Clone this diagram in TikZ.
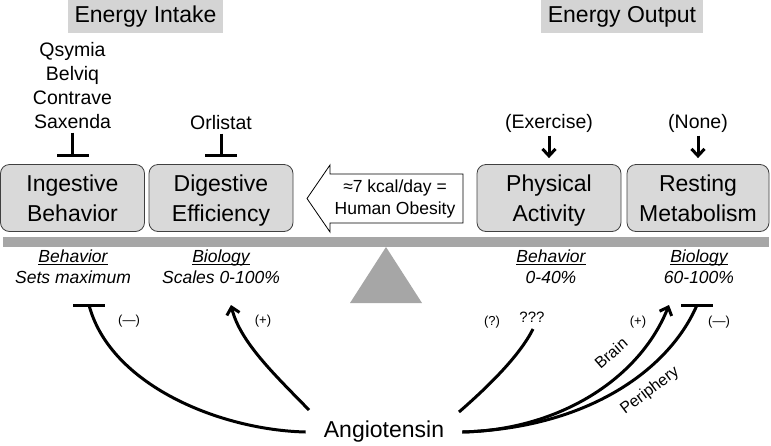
\documentclass[tikz,border=0pt]{standalone}
\usepackage{fontspec}
\setmainfont{Liberation Sans}
\usetikzlibrary{arrows.meta, positioning}

\definecolor{boxgray}{gray}{0.85}
\definecolor{titlegray}{gray}{0.83}
\definecolor{beamgray}{gray}{0.65}
\newcommand\fsz[2]{\fontsize{#1}{#2}\selectfont}
\newcommand\ulab[1]{\underline{\smash{#1}\vphantom{B}}}

\tikzset{
  part/.style={draw=black!75, line width=0.8pt, rounded corners=9pt, fill=boxgray,
    minimum width=144pt, minimum height=67pt, align=center, text depth=0pt,
    font=\fsz{23}{30}},
  title/.style={fill=titlegray, minimum height=33pt, font=\fsz{23}{28}},
  drug/.style={align=center, font=\fsz{19.5}{24}},
  scalelab/.style={align=center, font=\fsz{17.5}{21}\itshape},
  sign/.style={font=\fsz{13}{15}},
  route/.style={line width=3pt},
  inhib/.style={line width=3pt, -{Bar[width=32pt]}},
  stim/.style={line width=3pt, -{Straight Barb[length=7pt,width=13pt]}}
}

\begin{document}
\begin{tikzpicture}[x=1pt, y=-1pt]
  \useasboundingbox (0,0) rectangle (771,445);

  % headings
  \node[title, minimum width=155pt] (intake) at (145.5,16.5) {Energy Intake};
  \node[title, minimum width=162pt] (output) at (622,16.5) {Energy Output};

  % drugs
  \node[drug] (drugs) at (72.5,86) {Qsymia\\Belviq\\Contrave\\Saxenda};
  \node[drug] (orli) at (221,123) {Orlistat};
  \node[drug] (exer) at (549,123) {(Exercise)};
  \node[drug] (none) at (698,123) {(None)};

  % compartments
  \node[part] (ingest) at (72.5,198) {Ingestive\\Behavior};
  \node[part] (digest) at (221,198) {Digestive\\Efficiency};
  \node[part] (phys) at (549,198) {Physical\\Activity};
  \node[part, minimum width=142pt] (rest) at (698,198) {Resting\\Metabolism};

  \draw[inhib] (drugs.south) -- ([yshift=7pt]ingest.north);
  \draw[inhib] (orli.south) -- ([yshift=7pt]digest.north);
  \draw[stim] (exer.south) -- ([yshift=6pt]phys.north);
  \draw[stim] (none.south) -- ([yshift=6pt]rest.north);

  % imbalance arrow
  \draw[line width=0.8pt, fill=white] (463,174) -- (330,174) -- (330,165) -- (307,198.5)
    -- (330,232) -- (330,223) -- (463,223) -- cycle;
  \node[align=center, font=\fsz{17.5}{22}] (gap) at (395,199) {≈7 kcal/day =\\Human Obesity};

  % balance
  \fill[beamgray] (3,237) rectangle (769,247);
  \fill[beamgray] (386,247) -- (350,303) -- (422,303) -- cycle;

  \node[scalelab] (lab1) at (73,267) {\ulab{Behavior}\\Sets maximum};
  \node[scalelab] (lab2) at (221,267) {\ulab{Biology}\\Scales 0-100\%};
  \node[scalelab] (lab3) at (551,267) {\ulab{Behavior}\\0-40\%};
  \node[scalelab] (lab4) at (699,267) {\ulab{Biology}\\60-100\%};

  % angiotensin
  \node[font=\fsz{23}{28}, inner xsep=18pt] (ang) at (384,432) {Angiotensin};
  \coordinate (dstart) at (309,410);
  \coordinate (qstart) at (459,412);
  \coordinate (qend) at (533,329);
  \coordinate (barL) at (89,305);
  \coordinate (barR) at (697,305);
  \coordinate (tipD) at (231,305);
  \coordinate (tipB) at (669,305);

  \draw[route] (ang.west) .. controls (220,430) and (110,385) .. (barL);
  \draw[route] ([xshift=-16pt]barL) -- ([xshift=16pt]barL);
  \draw[stim] (dstart) .. controls (275,375) and (240,342) .. (tipD);
  \draw[route] (qstart) .. controls (490,385) and (520,355) .. (qend);
  \draw[stim] (ang.east) .. controls (560,430) and (640,378) .. (tipB);
  \draw[route] (ang.east) .. controls (590,428) and (670,368) .. (barR);
  \draw[route] ([xshift=-16pt]barR) -- ([xshift=16pt]barR);

  \node[sign] (s1) at (129,321) {(—)};
  \node[sign] (s2) at (263,321) {(+)};
  \node[sign] (s3) at (492,322) {(?)};
  \node[font=\fsz{15}{18}] (s4) at (532,317) {???};
  \node[sign] (s5) at (638,322) {(+)};
  \node[sign] (s6) at (719,322) {(—)};

  \node[font=\fsz{16}{19}, inner sep=0pt, rotate=41] (brain) at (611,353) {Brain};
  \node[font=\fsz{16}{19}, inner sep=0pt, rotate=37] (peri) at (650,391) {Periphery};
\end{tikzpicture}
\end{document}
